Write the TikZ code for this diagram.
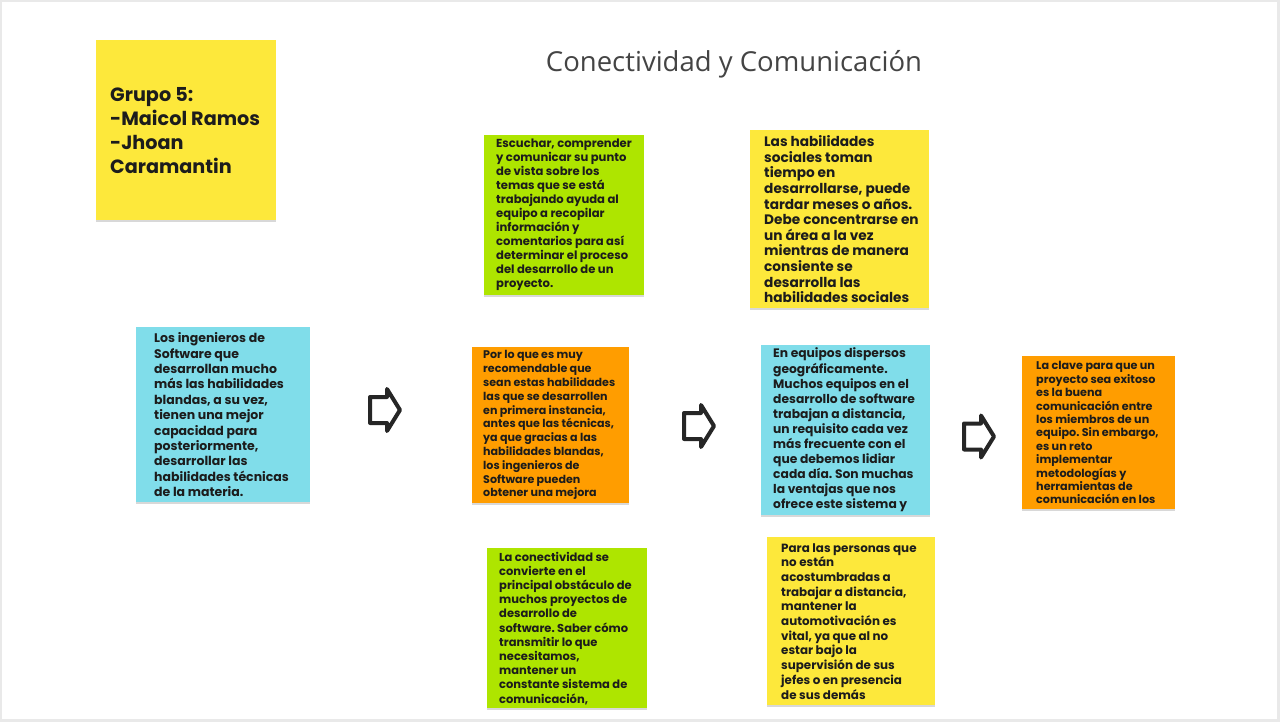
\documentclass[tikz,border=0pt]{standalone}
\usepackage{fontspec}
\setmainfont{Poppins}
\newfontfamily\titlefont{Open Sans}
\usetikzlibrary{shadows}
\frenchspacing

\definecolor{notayellow}{HTML}{FDE83B}
\definecolor{notagreen}{HTML}{AEE500}
\definecolor{notacyan}{HTML}{80DDEA}
\definecolor{notaorange}{HTML}{FF9D00}
\definecolor{notatext}{HTML}{1C1C1C}
\definecolor{titlegray}{HTML}{444444}
\definecolor{framegray}{HTML}{E9E9E9}

\begin{document}
\begin{tikzpicture}
[
	x				= 1pt,
	y				= -1pt,
	nota/.style		=
	{
		anchor		= north west,
		inner sep	= 0pt,
		drop shadow	= {shadow xshift = 0pt, shadow yshift = -2pt, opacity = 0.3, fill = gray},
	},
	texto/.style	= {anchor = west, align = left, inner sep = 0pt, text = notatext},
	flecha/.style	= {draw = black!85, line width = 4pt, line join = round, fill = white},
]

% marco
\useasboundingbox (0,0) rectangle (1280,722);
\fill [framegray] (0,0) rectangle (1280,722);
\fill [white] (2,2) rectangle (1277,719);

\node (titulo) at (734,64) {\titlefont\color{titlegray}\fontsize{27.5}{32}\selectfont Conectividad y Comunicación};

% notas
\node [nota, fill = notayellow, minimum width = 180pt, minimum height = 180pt] (grupo) at (96,40) {};
\node [texto, font = \bfseries\fontsize{19.2}{24}\selectfont] (grupo-t) at ([xshift = 14pt]grupo.west)
	{Grupo 5:\\-Maicol Ramos\\-Jhoan\\Caramantin};

\node [nota, fill = notagreen, minimum width = 160pt, minimum height = 160pt] (escuchar) at (484,135) {};
\node [texto, font = \bfseries\fontsize{11.6}{14}\selectfont] (escuchar-t) at ([xshift = 12pt]escuchar.west)
	{Escuchar, comprender\\y comunicar su punto\\de vista sobre los\\temas que se está\\trabajando ayuda al\\equipo a recopilar\\información y\\comentarios para así\\determinar el proceso\\del desarrollo de un\\proyecto.};

\node [nota, fill = notayellow, minimum width = 179pt, minimum height = 178pt] (sociales) at (750,130) {};
\node [texto, font = \bfseries\fontsize{13.7}{15.6}\selectfont] (sociales-t) at ([xshift = 14pt]sociales.west)
	{Las habilidades\\sociales toman\\tiempo en\\desarrollarse, puede\\tardar meses o años.\\Debe concentrarse en\\un área a la vez\\mientras de manera\\consiente se\\desarrolla las\\habilidades sociales};

\node [nota, fill = notacyan, minimum width = 174pt, minimum height = 175pt] (ingenieros) at (136,327) {};
\node [texto, font = \bfseries\fontsize{12.5}{15.4}\selectfont] (ingenieros-t) at ([xshift = 18pt]ingenieros.west)
	{Los ingenieros de\\Software que\\desarrollan mucho\\más las habilidades\\blandas, a su vez,\\tienen una mejor\\capacidad para\\posteriormente,\\desarrollar las\\habilidades técnicas\\de la materia.};

\node [nota, fill = notaorange, minimum width = 157pt, minimum height = 156pt] (recomendable) at (472,347) {};
\node [texto, font = \bfseries\fontsize{11.1}{13.8}\selectfont] (recomendable-t) at ([xshift = 11pt]recomendable.west)
	{Por lo que es muy\\recomendable que\\sean estas habilidades\\las que se desarrollen\\en primera instancia,\\antes que las técnicas,\\ya que gracias a las\\habilidades blandas,\\los ingenieros de\\Software pueden\\obtener una mejora};

\node [nota, fill = notacyan, minimum width = 169pt, minimum height = 170pt] (dispersos) at (761,345) {};
\node [texto, font = \bfseries\fontsize{12.3}{15.1}\selectfont] (dispersos-t) at ([xshift = 12pt]dispersos.west)
	{En equipos dispersos\\geográficamente.\\Muchos equipos en el\\desarrollo de software\\trabajan a distancia,\\un requisito cada vez\\más frecuente con el\\que debemos lidiar\\cada día. Son muchas\\la ventajas que nos\\ofrece este sistema y};

\node [nota, fill = notaorange, minimum width = 153pt, minimum height = 153pt] (clave) at (1022,356) {};
\node [texto, font = \bfseries\fontsize{11.2}{13.4}\selectfont] (clave-t) at ([xshift = 14pt]clave.west)
	{La clave para que un\\proyecto sea exitoso\\es la buena\\comunicación entre\\los miembros de un\\equipo. Sin embargo,\\es un reto\\implementar\\metodologías y\\herramientas de\\comunicación en los};

\node [nota, fill = notagreen, minimum width = 160pt, minimum height = 160pt] (conectividad) at (487,548) {};
\node [texto, font = \bfseries\fontsize{11.5}{14.2}\selectfont] (conectividad-t) at ([xshift = 12pt]conectividad.west)
	{La conectividad se\\convierte en el\\principal obstáculo de\\muchos proyectos de\\desarrollo de\\software. Saber cómo\\transmitir lo que\\necesitamos,\\mantener un\\constante sistema de\\comunicación,};

\node [nota, fill = notayellow, minimum width = 168pt, minimum height = 168pt] (personas) at (767,537) {};
\node [texto, font = \bfseries\fontsize{11.9}{14.7}\selectfont] (personas-t) at ([xshift = 14pt]personas.west)
	{Para las personas que\\no están\\acostumbradas a\\trabajar a distancia,\\mantener la\\automotivación es\\vital, ya que al no\\estar bajo la\\supervisión de sus\\jefes o en presencia\\de sus demás};

% flechas
\coordinate (f1) at (370,410);
\coordinate (f2) at (684,426);
\coordinate (f3) at (964,436.5);
\foreach \f in {f1,f2,f3}
{
	\draw [flecha] (\f) ++(0,-13) -- ++(17,0) -- ++(0,-8) -- ++(13,21) -- ++(-13,21) -- ++(0,-8) -- ++(-17,0) -- cycle;
}

\end{tikzpicture}
\end{document}
